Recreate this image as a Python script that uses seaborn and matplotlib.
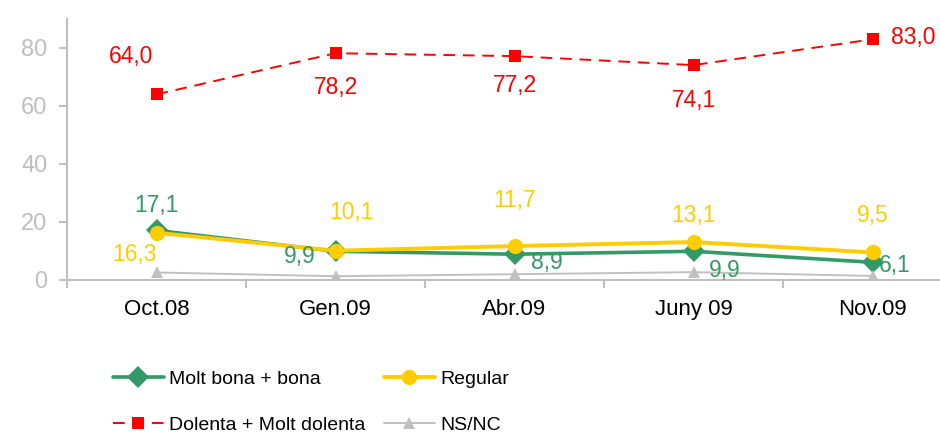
import matplotlib
matplotlib.use("Agg")
import matplotlib.pyplot as plt
import seaborn as sns
import pandas as pd

# data
periods = ["Oct.08", "Gen.09", "Abr.09", "Juny 09", "Nov.09"]
molt_bona = [17.1, 9.9, 8.9, 9.9, 6.1]
regular = [16.3, 10.1, 11.7, 13.1, 9.5]
dolenta = [64.0, 78.2, 77.2, 74.1, 83.0]
nsnc = [2.6, 1.3, 2.0, 2.7, 1.4]

sns.set_theme(style="white")
plt.rcParams["font.family"] = ["Liberation Sans", "DejaVu Sans"]

fig = plt.figure(figsize=(9.4, 4.34), dpi=100)
ax = fig.add_axes([67 / 940, (434 - 280) / 434, (940 - 67) / 940, 261 / 434])

df = pd.DataFrame({"periode": periods, "molt_bona": molt_bona, "regular": regular,
                   "dolenta": dolenta, "nsnc": nsnc})

series = [
    ("molt_bona", "Molt bona + bona", dict(color="#339966", marker="D", markersize=11, linewidth=2.6)),
    ("regular", "Regular", dict(color="#FFCC00", marker="o", markersize=11, linewidth=2.8)),
    ("dolenta", "Dolenta + Molt dolenta", dict(color="#FF0000", marker="s", markersize=8, linewidth=1.4,
                                               dashes=(6, 4))),
    ("nsnc", "NS/NC", dict(color="#C0C0C0", marker="^", markersize=9, linewidth=1.4)),
]
for col, label, kw in series:
    sns.lineplot(data=df, x="periode", y=col, ax=ax, label=label, markeredgewidth=0,
                 sort=False, **kw)

# value labels, offsets in pixels from the point
offsets = {
    "dolenta": [(-25, 38), (0, -34), (0, -29), (0, -35), (41, 2)],
    "molt_bona": [(0, 25), (-36, -5), (32, -8), (31, -19), (22, -3)],
    "regular": [(-22, -22), (16, 38), (0, 46), (0, 27), (0, 37)],
}
colors = {"dolenta": "#FF0000", "molt_bona": "#339966", "regular": "#FFCC00"}
for col, offs in offsets.items():
    for i, (v, (dx, dy)) in enumerate(zip(df[col], offs)):
        ax.annotate(f"{v:.1f}".replace(".", ","), (i, v), xytext=(dx, dy),
                    textcoords="offset pixels", ha="center", va="center",
                    fontsize=16.5, color=colors[col])

ax.set_yticks([0, 20, 40, 60, 80])
ax.set_xticks([-0.5, 0.5, 1.5, 2.5, 3.5, 4.5])
ax.set_xticklabels([])
ax.set_xticks(range(5), minor=True)
ax.set_xticklabels(periods, minor=True)
ax.set_xlim(-0.5, 4.377)
ax.set_ylim(0, 90)
ax.set_xlabel("")
ax.set_ylabel("")

for s in ["top", "right"]:
    ax.spines[s].set_visible(False)
for s in ["left", "bottom"]:
    ax.spines[s].set_color("#BFBFBF")
    ax.spines[s].set_linewidth(1.5)
ax.tick_params(axis="both", which="major", direction="out", length=6, width=1.5,
               color="#BFBFBF", left=True, bottom=True)
ax.tick_params(axis="y", labelsize=17, labelcolor="#BFBFBF", pad=8)
ax.tick_params(axis="x", which="minor", length=0, labelsize=16, labelcolor="black", pad=14)

handles, labels = ax.get_legend_handles_labels()
ax.get_legend().remove()
leg_kw = dict(loc="upper left", frameon=False, prop={"size": 14}, labelcolor="black",
              handlelength=2.6, handletextpad=0.3, labelspacing=1.45,
              borderpad=0, borderaxespad=0)
fig.legend([handles[0], handles[2]], [labels[0], labels[2]],
           bbox_to_anchor=(113 / 940, 0.146), **leg_kw)
fig.legend([handles[1], handles[3]], [labels[1], labels[3]],
           bbox_to_anchor=(384 / 940, 0.146), **leg_kw)

fig.savefig("out.png", dpi=100)
